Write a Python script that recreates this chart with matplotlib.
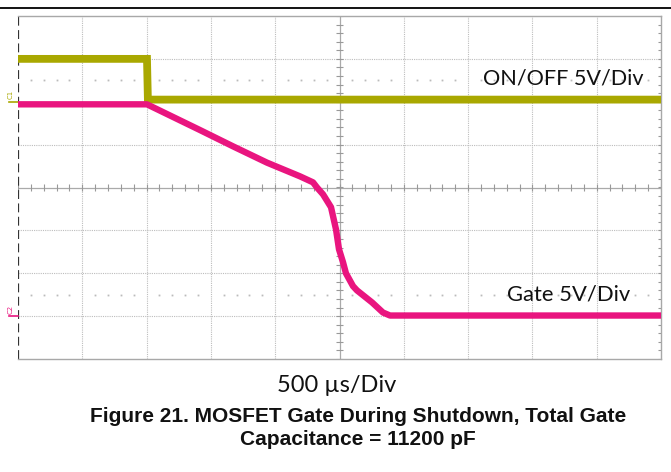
import matplotlib
matplotlib.use("Agg")
import matplotlib.pyplot as plt
from matplotlib.lines import Line2D
import numpy as np

# ---- data (time in microseconds, voltage in volts) ----
onoff_t = [0, 1003, 1010, 5000]
onoff_v = [5.0, 5.0, 0.25, 0.25]

gate_t = [0, 1003, 1415, 1672, 1936, 2193, 2294, 2325, 2372, 2434, 2473,
          2496, 2527, 2550, 2605, 2636, 2753, 2838, 2893, 5000]
gate_v = [24.7, 24.7, 21.7, 19.8, 17.9, 16.3, 15.6, 15.0, 14.2, 12.7, 10.1,
          7.8, 6.3, 5.0, 3.5, 3.0, 1.6, 0.42, 0.07, 0.07]

onoff_label = "ON/OFF 5V/Div"
gate_label = "Gate 5V/Div"
time_label = "500 \u00b5s/Div"
caption = "Figure 21. MOSFET Gate During Shutdown, Total Gate\nCapacitance = 11200 pF"

# scope settings
volts_per_div = 5.0
us_per_div = 500.0
c1_offset_div = 2.0
c2_offset_div = -3.0

OLIVE = "#A9A800"
PINK = "#E9157F"
GRID = "#BDBDBD"

W, H = 671, 472
fig = plt.figure(figsize=(W / 100, H / 100), dpi=100)
ax = fig.add_axes([18 / W, 1 - 359 / H, 643 / W, 343 / H])
ax.set_xlim(0, 10 * us_per_div)
ax.set_ylim(-4, 4)
ax.set_xticks([])
ax.set_yticks([])
for s in ["top", "bottom", "right"]:
    ax.spines[s].set_color("#A8A8A8")
    ax.spines[s].set_linewidth(1.0)
ax.spines["left"].set_visible(False)

# grid
for i in range(1, 10):
    if i != 5:
        ax.axvline(i * us_per_div, color=GRID, lw=0.8, ls=(0, (1, 1)), zorder=1)
for j in range(-3, 4):
    if j != 0:
        ax.axhline(j, color=GRID, lw=0.8, ls=(0, (1, 1)), zorder=1)
# center axes with ticks
ax.axvline(5 * us_per_div, color="#AAAAAA", lw=0.9, zorder=1)
ax.axhline(0, color="#AAAAAA", lw=0.9, zorder=1)
xt = np.arange(0, 5001, us_per_div / 5)
ax.vlines(xt, -0.07, 0.07, color="#999999", lw=0.8, zorder=1)
yt = np.arange(-4, 4.01, 0.2)
ax.hlines(yt, 2500 - 25, 2500 + 25, color="#999999", lw=0.8, zorder=1)
# right edge ticks
ax.hlines(yt, 5000 - 20, 5000, color="#999999", lw=0.8, zorder=1)
# dotted rows at +/-2.5 div
xd = [x for x in np.arange(0, 5001, us_per_div / 5) if x % us_per_div != 0]
for yy in (2.5, -2.5):
    ax.plot(xd, [yy] * len(xd), ls="none", marker="s", ms=1.3,
            color="#BBBBBB", mec="none", zorder=1)
# left dashed axis
ax.axvline(0, color="#333333", lw=1.6, ls=(0, (4, 2)), zorder=2)

# traces
ax.plot(onoff_t, np.array(onoff_v) / volts_per_div + c1_offset_div,
        color=OLIVE, lw=5.6, solid_joinstyle="miter", zorder=3)
ax.plot(gate_t, np.array(gate_v) / volts_per_div + c2_offset_div,
        color=PINK, lw=4.6, solid_joinstyle="round", zorder=4)

# channel markers
ax.plot([-70, 0], [c1_offset_div, c1_offset_div], color=OLIVE, lw=1.2, clip_on=False)
ax.text(-60, c1_offset_div + 0.06, "C1", color=OLIVE, fontsize=5, ha="center",
        va="bottom", rotation=90, clip_on=False)
ax.plot([-70, 0], [c2_offset_div, c2_offset_div], color=PINK, lw=1.2, clip_on=False)
ax.text(-60, c2_offset_div + 0.06, "C2", color=PINK, fontsize=5, ha="center",
        va="bottom", rotation=90, clip_on=False)

# labels
ax.text(3616, 2.54, onoff_label, fontsize=15.6, family="Lato", color="#111111",
        ha="left", va="center", zorder=5)
ax.text(3803, -2.5, gate_label, fontsize=15.8, family="Lato", color="#111111",
        ha="left", va="center", zorder=5)

fig.text(337 / W, 1 - 386 / H, time_label, fontsize=17, family="Lato",
         ha="center", va="center", color="#111111")
fig.text(358 / W, 1 - 428 / H, caption, fontsize=15, fontweight="bold",
         family=["Liberation Sans Narrow", "Liberation Sans"], ha="center",
         va="center", linespacing=1.25, color="#111111")

# top rule
fig.add_artist(Line2D([0, 1], [1 - 7.5 / H, 1 - 7.5 / H], color="black", lw=1.3))

fig.savefig("out.png", dpi=100)
